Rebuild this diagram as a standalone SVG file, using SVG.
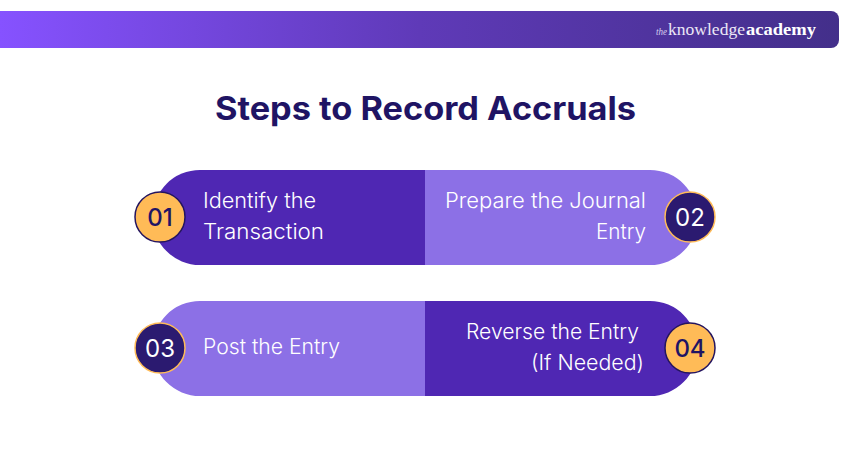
<svg xmlns="http://www.w3.org/2000/svg" width="850" height="450" viewBox="0 0 850 450">
<style>
.lbl{font-family:"Inter","Liberation Sans",sans-serif;font-size:21px;fill:#fff;font-weight:300}
.num{font-family:"Inter","Liberation Sans",sans-serif;font-size:24px;font-weight:500;fill:#1f1464;text-anchor:middle}
.numw{fill:#fff;font-weight:400}
.dark{fill:#4f27b3}.light{fill:#8c70e6}
.cy{fill:#ffbb57;stroke:#25155f;stroke-width:1.5}
.cd{fill:#2b1a70;stroke:#ffbb57;stroke-width:1.5}
</style>
<defs>
<linearGradient id="hdr" x1="0" y1="0" x2="1" y2="0"><stop offset="0" stop-color="#8652ff"/><stop offset="0.5" stop-color="#5f3ab8"/><stop offset="1" stop-color="#432f8a"/></linearGradient>
</defs>
<rect width="850" height="450" fill="#fff"/>
<path id="header" d="M0 11H831a8 8 0 0 1 8 8V40a8 8 0 0 1-8 8H0Z" fill="url(#hdr)"/>
<g id="logo" font-family="Liberation Serif,serif" fill="#fff">
<text x="656" y="35" font-size="10" font-style="italic" fill="#d8d0ee" textLength="11" lengthAdjust="spacingAndGlyphs">the</text>
<text x="668" y="35" font-size="17" textLength="77" lengthAdjust="spacingAndGlyphs" fill="#ece8f6">knowledge</text>
<text x="746" y="35" font-size="17" font-weight="700" textLength="70" lengthAdjust="spacingAndGlyphs">academy</text>
</g>
<text id="title" x="215" y="120" font-family="Inter,Liberation Sans,sans-serif" font-size="32" font-weight="700" fill="#1f1464" textLength="421" lengthAdjust="spacingAndGlyphs">Steps to Record Accruals</text>
<g id="node-01">
<path class="dark" d="M425 170H200a47.500 47.500 0 0 0 0 95H425Z"/>
<circle class="cy" cx="160" cy="217" r="25"/><text class="num" x="160" y="226">01</text>
<text class="lbl" x="203" y="208" textLength="113" lengthAdjust="spacingAndGlyphs">Identify the</text>
<text class="lbl" x="203" y="239" textLength="121" lengthAdjust="spacingAndGlyphs">Transaction</text>
</g>
<g id="node-02">
<path class="light" d="M425 170H650a47.500 47.500 0 0 1 0 95H425Z"/>
<circle class="cd" cx="690" cy="217" r="25"/><text class="num numw" x="690" y="226">02</text>
<text class="lbl" x="445" y="208" textLength="201" lengthAdjust="spacingAndGlyphs">Prepare the Journal</text>
<text class="lbl" x="596" y="239" textLength="50" lengthAdjust="spacingAndGlyphs">Entry</text>
</g>
<g id="node-03">
<path class="light" d="M425 301H200a47.500 47.500 0 0 0 0 95H425Z"/>
<circle class="cd" cx="160" cy="348" r="25"/><text class="num numw" x="160" y="357">03</text>
<text class="lbl" x="203" y="354" textLength="137" lengthAdjust="spacingAndGlyphs">Post the Entry</text>
</g>
<g id="node-04">
<path class="dark" d="M425 301H650a47.500 47.500 0 0 1 0 95H425Z"/>
<circle class="cy" cx="690" cy="348" r="25"/><text class="num" x="690" y="357">04</text>
<text class="lbl" x="466" y="339" textLength="173" lengthAdjust="spacingAndGlyphs">Reverse the Entry</text>
<text class="lbl" x="531" y="370" textLength="113" lengthAdjust="spacingAndGlyphs">(If Needed)</text>
</g>
<g id="connectors"/>
</svg>
